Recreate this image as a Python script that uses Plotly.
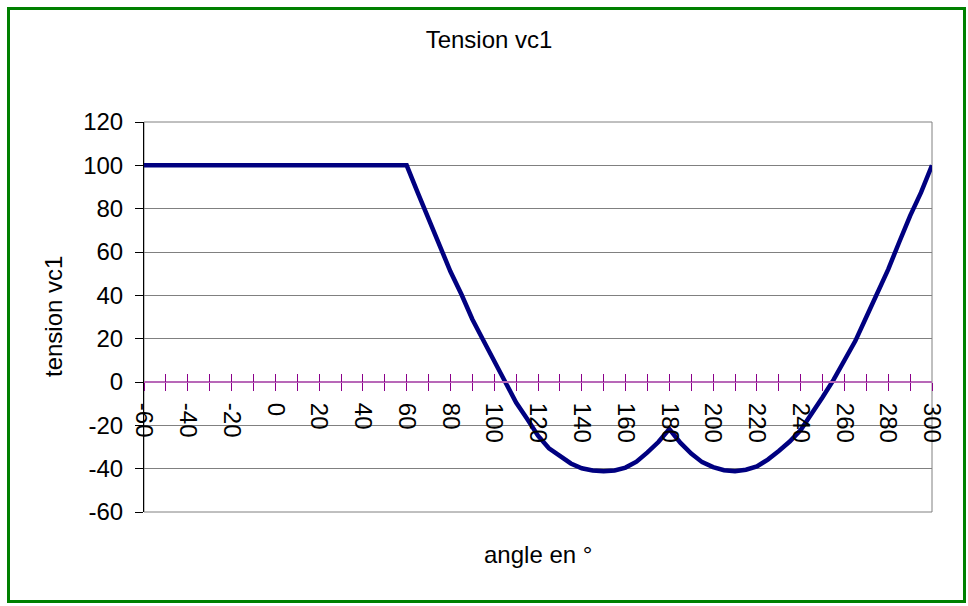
import plotly.graph_objects as go

# Angle (degrees) and capacitor voltage vc1
angles = list(range(-60, 305, 5))
vc1 = [
    100, 100, 100, 100, 100, 100, 100, 100, 100, 100, 100, 100,   # -60 .. -5
    100, 100, 100, 100, 100, 100, 100, 100, 100, 100, 100, 100,   # 0 .. 55
    100, 87.5, 75, 63.5, 51, 40.5, 29, 19.3, 9.5, 0, -9.5, -17,   # 60 .. 115
    -24.8, -30.6, -34.3, -37.6, -39.8, -40.8, -41.2, -40.8,       # 120 .. 155
    -39.5, -36.8, -32.5, -27.7, -21.7,                            # 160 .. 180
    -28, -33, -37, -39.3, -40.7, -41.2, -40.5, -39,               # 185 .. 220
    -35.8, -31.8, -27.5, -22.2, -15, -7, 1, 10.5, 19,             # 225 .. 265
    30, 41, 52, 64.5, 76.7, 87.5, 100,                            # 270 .. 300
]
x_range = [-60, 300]
y_range = [-60, 120]
x_ticks = list(range(-60, 301, 20))
x_minor_ticks = list(range(-60, 301, 10))
y_ticks = list(range(-60, 121, 20))

title_text = "Tension vc1"
x_title = "angle en °"
y_title = "tension vc1"

FONT = "Arial, Liberation Sans, sans-serif"
FS = 24
W, H = 968, 606
# plot area in pixels
PL, PR, PT, PB = 144, 932, 122, 512
pw, ph = PR - PL, PB - PT


def px_to_paper_x(px):
    return (px - PL) / pw


def px_to_paper_y(py):
    return (PB - py) / ph


# y-position (paper) of the horizontal category axis crossing at value 0
zero_pos = (0 - y_range[0]) / (y_range[1] - y_range[0])

fig = go.Figure()
fig.add_trace(go.Scatter(
    x=angles, y=vc1, mode="lines",
    line=dict(color="#000080", width=4.5),
    hoverinfo="x+y", showlegend=False,
))
# companion trace carrying the upper half of the crossing tick marks
fig.add_trace(go.Scatter(
    x=angles, y=vc1, xaxis="x2", mode="lines",
    line=dict(color="rgba(0,0,0,0)", width=0),
    hoverinfo="skip", showlegend=False,
))

tick_purple = "#8B008B"

fig.update_layout(
    width=W, height=H,
    margin=dict(l=PL, r=W - PR, t=PT, b=H - PB),
    paper_bgcolor="white", plot_bgcolor="white",
    font=dict(family=FONT, size=FS, color="black"),
    title=dict(text=title_text, x=489 / W, xref="container", xanchor="center",
               y=1 - 40 / H, yref="container", yanchor="middle",
               font=dict(family=FONT, size=FS, color="black")),
    xaxis=dict(
        range=x_range, anchor="free", position=zero_pos,
        showgrid=False, zeroline=False,
        showline=True, linecolor="#B868B8", linewidth=2,
        ticks="outside", ticklen=8, tickwidth=1, tickcolor=tick_purple,
        tickmode="array", tickvals=x_ticks, ticktext=[str(v) for v in x_ticks],
        minor=dict(ticks="outside", ticklen=8, tickwidth=1, tickcolor=tick_purple,
                   tickvals=x_minor_ticks, showgrid=False),
        tickangle=90, ticklabelstandoff=7,
        tickfont=dict(family=FONT, size=FS, color="black"),
    ),
    xaxis2=dict(
        range=x_range, overlaying="x", anchor="free", position=zero_pos,
        showgrid=False, zeroline=False, showline=False,
        ticks="inside", ticklen=8, tickwidth=1, tickcolor=tick_purple,
        tickmode="array", tickvals=x_minor_ticks, showticklabels=False,
    ),
    yaxis=dict(
        range=y_range, tickmode="array", tickvals=y_ticks,
        ticktext=[str(v) for v in y_ticks],
        showgrid=True, gridcolor="#808080", gridwidth=1,
        zeroline=False,
        showline=True, linecolor="black", linewidth=1,
        ticks="outside", ticklen=8, tickcolor="black",
        ticklabelstandoff=7,
        tickfont=dict(family=FONT, size=FS, color="black"),
    ),
    annotations=[
        dict(text=x_title, x=0.5, y=px_to_paper_y(554), xref="paper", yref="paper",
             showarrow=False, xanchor="center", yanchor="middle",
             font=dict(family=FONT, size=FS, color="black")),
        dict(text=y_title, x=px_to_paper_x(53), y=0.5, xref="paper", yref="paper",
             showarrow=False, xanchor="center", yanchor="middle", textangle=-90,
             font=dict(family=FONT, size=FS, color="black")),
    ],
    shapes=[
        # plot-area frame
        dict(type="rect", xref="paper", yref="paper", x0=0, x1=1, y0=0, y1=1,
             line=dict(color="#808080", width=1), layer="below"),
        # green chart border
        dict(type="rect", xref="paper", yref="paper",
             x0=px_to_paper_x(8.5), x1=px_to_paper_x(964.5),
             y0=px_to_paper_y(601.5), y1=px_to_paper_y(8.5),
             line=dict(color="#008000", width=3), layer="above"),
    ],
)

fig.write_html("out.html")
